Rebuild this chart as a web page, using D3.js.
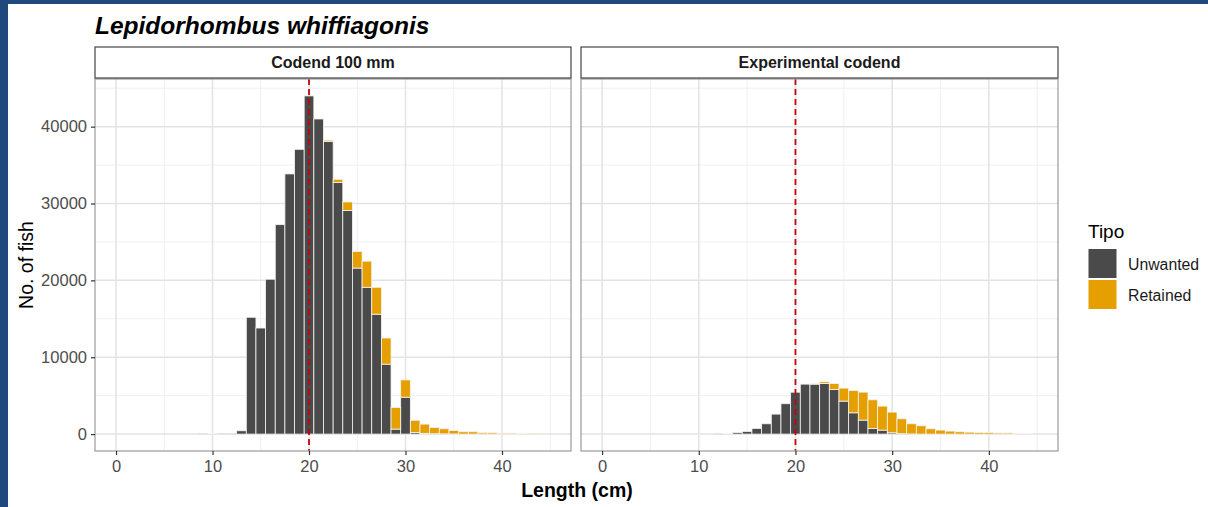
<!DOCTYPE html>
<html>
<head>
<meta charset="utf-8">
<script src="https://cdn.jsdelivr.net/npm/d3@7"></script>
<style>
  html, body { margin: 0; padding: 0; background: #fff; }
  svg { display: block; font-family: "Liberation Sans", Arial, sans-serif; }
</style>
</head>
<body>
<svg id="chart" width="1208" height="507"></svg>
<script>
// ---- Data ----
const lengths = [9,10,11,12,13,14,15,16,17,18,19,20,21,22,23,24,25,26,27,28,29,30,31,32,33,34,35,36,37,38,39,40,41,42,43,44];
const panels = ["Codend 100 mm", "Experimental codend"];
const tipos = ["Unwanted", "Retained"];
const unwantedCodend = [60,80,60,30,430,15200,13800,20150,27250,33850,37050,44000,41000,38100,32750,29100,21600,19100,15600,9100,650,4800,200,100,50,30,20,0,0,0,0,0,0,0,0,0];
const retainedCodend = [0,0,0,0,0,0,0,0,0,0,0,0,0,150,400,1100,2150,3400,3500,3400,2800,2250,1600,1200,810,660,450,300,300,170,170,130,130,90,60,50];
const unwantedExp = [0,0,0,30,100,200,350,740,1340,2600,3950,5450,6500,6500,6580,5800,4290,2770,1820,730,520,170,50,20,0,0,0,0,0,0,0,0,0,0,0,0];
const retainedExp = [0,0,0,0,0,0,0,0,0,0,0,0,0,100,220,780,1690,2900,3640,3730,3120,2690,1940,1320,1080,690,520,390,300,250,200,200,150,150,110,100];
const xTicks = [0,10,20,30,40];
const yTicks = [0,10000,20000,30000,40000];
const refLength = 20;

const seriesByPanel = [
  {unwanted: unwantedCodend, retained: retainedCodend},
  {unwanted: unwantedExp, retained: retainedExp}
];
const colors = {Unwanted: "#4a4a4a", Retained: "#E69F00"};

// ---- Layout ----
const svg = d3.select("#chart");
svg.append("rect").attr("x",0).attr("y",0).attr("width",1208).attr("height",507).attr("fill","#fff");
// blue frame of the slide
svg.append("rect").attr("x",0).attr("y",0).attr("width",8).attr("height",507).attr("fill","#1f497d");
svg.append("rect").attr("x",0).attr("y",0).attr("width",1208).attr("height",4).attr("fill","#1f497d");

const panelY0 = 79, panelY1 = 451;
const stripY0 = 47, stripY1 = 78;
const panelX = [[95, 571], [581, 1058]];

const y = d3.scaleLinear().domain([-2200, 46200]).range([panelY1, panelY0]);

svg.append("text")
  .attr("x", 95).attr("y", 34)
  .attr("font-size", 24.5).attr("font-weight", "bold").attr("font-style", "italic")
  .attr("fill", "#000")
  .text("Lepidorhombus whiffiagonis");

panels.forEach((name, pi) => {
  const [x0, x1] = panelX[pi];
  const x = d3.scaleLinear().domain([-2.18, 47.15]).range([x0, x1]);
  const g = svg.append("g");
  const clipId = "clip" + pi;
  svg.append("clipPath").attr("id", clipId).append("rect")
    .attr("x", x0).attr("y", panelY0).attr("width", x1 - x0).attr("height", panelY1 - panelY0);
  const inner = g.append("g").attr("clip-path", `url(#${clipId})`);

  // minor grid
  const xMinor = xTicks.map(t => t + 5).concat([-5]);
  const yMinor = yTicks.map(t => t + 5000).concat([-5000]);
  inner.selectAll(".xminor").data(xMinor).join("line")
    .attr("x1", d => x(d)).attr("x2", d => x(d))
    .attr("y1", panelY0).attr("y2", panelY1)
    .attr("stroke", "#f0f0f0").attr("stroke-width", 1);
  inner.selectAll(".yminor").data(yMinor).join("line")
    .attr("x1", x0).attr("x2", x1)
    .attr("y1", d => y(d)).attr("y2", d => y(d))
    .attr("stroke", "#f0f0f0").attr("stroke-width", 1);
  // major grid
  inner.selectAll(".xmajor").data(xTicks).join("line")
    .attr("x1", d => x(d)).attr("x2", d => x(d))
    .attr("y1", panelY0).attr("y2", panelY1)
    .attr("stroke", "#e3e3e3").attr("stroke-width", 1.5);
  inner.selectAll(".ymajor").data(yTicks).join("line")
    .attr("x1", x0).attr("x2", x1)
    .attr("y1", d => y(d)).attr("y2", d => y(d))
    .attr("stroke", "#e3e3e3").attr("stroke-width", 1.5);

  // stacked bars
  const s = seriesByPanel[pi];
  const rows = lengths.map((L, i) => ({L, Unwanted: s.unwanted[i], Retained: s.retained[i]}));
  const stack = d3.stack().keys(tipos)(rows);
  stack.forEach(layer => {
    inner.selectAll(null).data(layer.filter(d => d[1] - d[0] > 0)).join("rect")
      .attr("x", d => x(d.data.L - 0.5))
      .attr("width", d => x(d.data.L + 0.5) - x(d.data.L - 0.5))
      .attr("y", d => y(d[1]))
      .attr("height", d => Math.max(0.5, y(d[0]) - y(d[1])))
      .attr("fill", colors[layer.key])
      .attr("stroke", "#f4f4f4").attr("stroke-width", 0.8);
  });

  // reference line
  inner.append("line")
    .attr("x1", x(refLength)).attr("x2", x(refLength))
    .attr("y1", panelY0).attr("y2", panelY1)
    .attr("stroke", "#c8000a").attr("stroke-width", 1.8)
    .attr("stroke-dasharray", "6,4");

  // panel border
  g.append("rect").attr("x", x0).attr("y", panelY0).attr("width", x1 - x0).attr("height", panelY1 - panelY0)
    .attr("fill", "none").attr("stroke", "#9a9a9a").attr("stroke-width", 1.2);

  // strip
  g.append("rect").attr("x", x0).attr("y", stripY0).attr("width", x1 - x0).attr("height", stripY1 - stripY0)
    .attr("fill", "#fff").attr("stroke", "#444").attr("stroke-width", 1.2);
  g.append("text").attr("x", (x0 + x1) / 2).attr("y", (stripY0 + stripY1) / 2 + 5.5)
    .attr("text-anchor", "middle").attr("font-size", 16).attr("font-weight", "bold").attr("fill", "#1a1a1a")
    .text(name);

  // x axis
  const xAxis = g.append("g").attr("transform", `translate(0,${panelY1})`)
    .call(d3.axisBottom(x).tickValues(xTicks).tickSize(4).tickPadding(5).tickFormat(d3.format("d")));
  xAxis.select(".domain").remove();
  xAxis.selectAll(".tick line").attr("stroke", "#333").attr("stroke-width", 1.2);
  xAxis.selectAll(".tick text").attr("fill", "#4d4d4d").attr("font-size", 16.5).attr("font-family", "Liberation Sans, Arial, sans-serif");

  if (pi === 0) {
    const yAxis = g.append("g").attr("transform", `translate(${x0},0)`)
      .call(d3.axisLeft(y).tickValues(yTicks).tickSize(4).tickPadding(4).tickFormat(d3.format("d")));
    yAxis.select(".domain").remove();
    yAxis.selectAll(".tick line").attr("stroke", "#333").attr("stroke-width", 1.2);
    yAxis.selectAll(".tick text").attr("fill", "#4d4d4d").attr("font-size", 16.5).attr("font-family", "Liberation Sans, Arial, sans-serif");
  }
});

// axis titles
svg.append("text").attr("x", 577).attr("y", 497)
  .attr("text-anchor", "middle").attr("font-size", 19.5).attr("font-weight", "bold").attr("fill", "#000")
  .text("Length (cm)");
svg.append("text").attr("transform", "translate(33,265) rotate(-90)")
  .attr("text-anchor", "middle").attr("font-size", 19.5).attr("fill", "#000")
  .text("No. of fish");

// legend
const leg = svg.append("g");
leg.append("text").attr("x", 1088).attr("y", 238).attr("font-size", 19).attr("fill", "#000").text("Tipo");
tipos.forEach((t, i) => {
  const ky = 249 + i * 31;
  leg.append("rect").attr("x", 1088.5).attr("y", ky).attr("width", 28).attr("height", 29)
    .attr("fill", colors[t]);
  leg.append("text").attr("x", 1128).attr("y", ky + 21).attr("font-size", 15.8).attr("fill", "#1a1a1a").text(t);
});
</script>
</body>
</html>
